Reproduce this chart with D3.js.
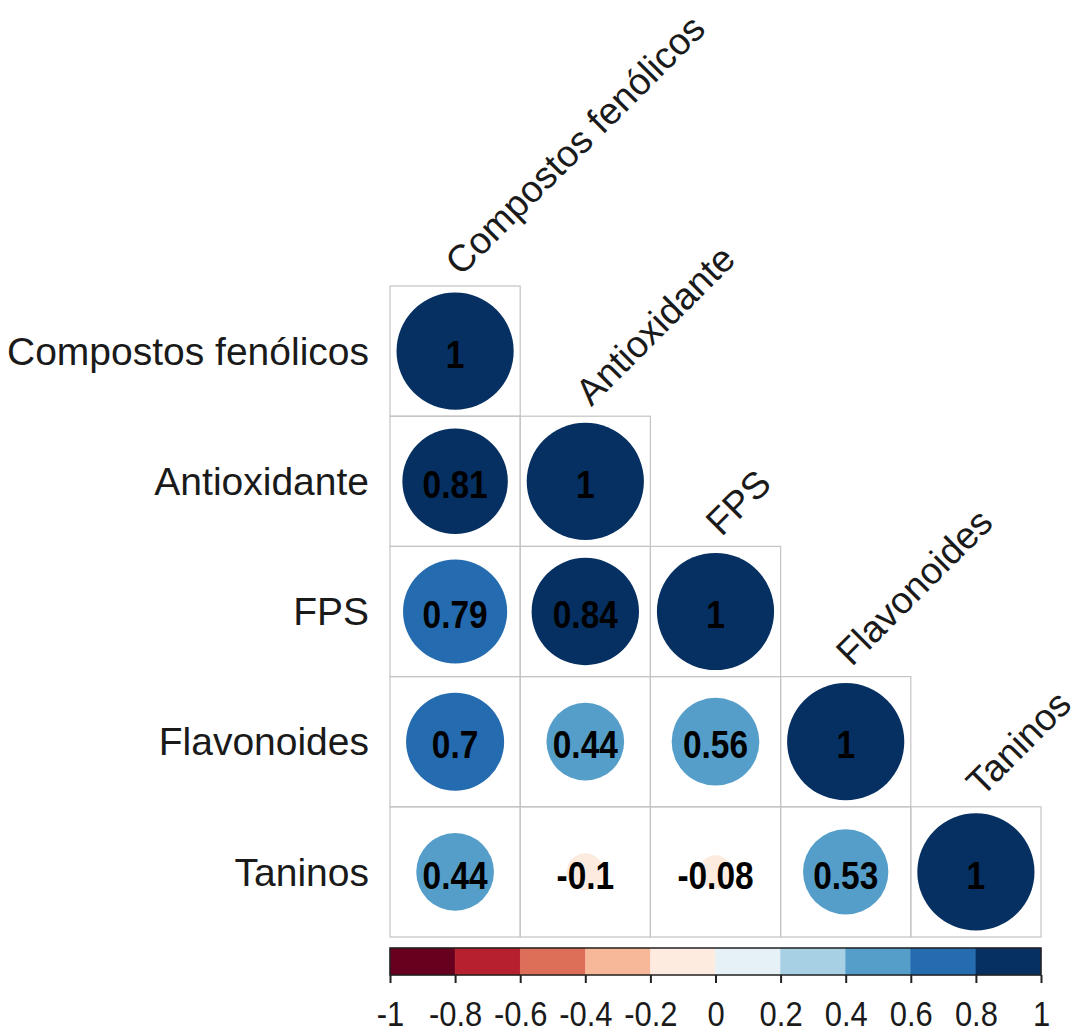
<!DOCTYPE html>
<html>
<head>
<meta charset="utf-8">
<script src="https://cdn.jsdelivr.net/npm/d3@7"></script>
<style>
  html, body { margin: 0; padding: 0; background: #ffffff; }
  svg { display: block; }
  text { font-family: "Liberation Sans", Arial, sans-serif; }
</style>
</head>
<body>
<svg id="chart" width="1091" height="1035"></svg>
<script>
// Variables of the correlation matrix
const variables = ["Compostos fenólicos", "Antioxidante", "FPS", "Flavonoides", "Taninos"];

// Lower-triangle correlation coefficients, one array per row (diagonal included)
const rowCompostos    = [1];
const rowAntioxidante = [0.81, 1];
const rowFPS          = [0.79, 0.84, 1];
const rowFlavonoides  = [0.70, 0.44, 0.56, 1];
const rowTaninos      = [0.44, -0.10, -0.08, 0.53, 1];
const correlations = [rowCompostos, rowAntioxidante, rowFPS, rowFlavonoides, rowTaninos];

// Colour legend ticks
const legendTicks = [-1, -0.8, -0.6, -0.4, -0.2, 0, 0.2, 0.4, 0.6, 0.8, 1];

// RdBu ramp stops, sampled into 10 equal bins
const rampStops = ["#67001F", "#B2182B", "#D6604D", "#F4A582", "#FDDBC7", "#FFFFFF",
                   "#D1E5F0", "#92C5DE", "#4393C3", "#2166AC", "#053061"];
const nBins = 10;

const svg = d3.select("#chart");

const ramp = d3.piecewise(d3.interpolateRgb, rampStops);
const binColors = d3.range(nBins).map(k => d3.color(ramp(k / (nBins - 1))).formatHex());
const color = d3.scaleQuantize().domain([-1, 1]).range(binColors);

// Grid geometry
const x = d3.scaleBand().domain(variables).range([390, 1041]).padding(0);
const y = d3.scaleBand().domain(variables).range([286, 937]).padding(0);
const cell = x.bandwidth();

// Flatten the lower triangle into cells
const cells = [];
correlations.forEach((row, i) => {
  row.forEach((v, j) => cells.push({ row: variables[i], col: variables[j], value: v }));
});

// Cell frames
svg.append("g")
  .selectAll("rect")
  .data(cells)
  .join("rect")
  .attr("x", d => x(d.col))
  .attr("y", d => y(d.row))
  .attr("width", cell)
  .attr("height", cell)
  .attr("fill", "none")
  .attr("stroke", "#c4c4c4")
  .attr("stroke-width", 1.2);

// Circles: area proportional to |r|
const radius = d3.scaleSqrt().domain([0, 1]).range([0, 0.45 * cell]);
svg.append("g")
  .selectAll("circle")
  .data(cells)
  .join("circle")
  .attr("cx", d => x(d.col) + cell / 2)
  .attr("cy", d => y(d.row) + cell / 2)
  .attr("r", d => radius(Math.abs(d.value)))
  .attr("fill", d => color(d.value));

// Coefficient labels (slightly condensed bold digits)
const fmt = v => String(+v.toFixed(2));
svg.append("g")
  .selectAll("text")
  .data(cells)
  .join("text")
  .attr("transform", d => `translate(${x(d.col) + cell / 2},${y(d.row) + cell / 2 + 3}) scale(0.88,1)`)
  .attr("dy", "0.36em")
  .attr("text-anchor", "middle")
  .attr("font-size", 38)
  .attr("font-weight", "bold")
  .attr("fill", "#000")
  .text(d => fmt(d.value));

// Row labels
svg.append("g")
  .selectAll("text")
  .data(variables)
  .join("text")
  .attr("x", 369)
  .attr("y", d => y(d) + cell / 2)
  .attr("dy", "0.35em")
  .attr("text-anchor", "end")
  .attr("font-size", 39)
  .attr("fill", "#1a1a1a")
  .text(d => d);

// Column labels on the diagonal, rotated 45°
svg.append("g")
  .selectAll("text")
  .data(variables)
  .join("text")
  .attr("transform", d => `translate(${x(d) + cell / 2 + 6},${y(d) - 9}) rotate(-45)`)
  .attr("text-anchor", "start")
  .attr("font-size", 37.5)
  .attr("fill", "#1a1a1a")
  .text(d => d);

// Colour legend
const lx = d3.scaleLinear().domain([-1, 1]).range([390, 1041]);
const barTop = 948, barBottom = 975;
const bins = d3.range(nBins).map(k => ({ a: -1 + 2 * k / nBins, b: -1 + 2 * (k + 1) / nBins, c: binColors[k] }));

const legend = svg.append("g");
legend.selectAll("rect.bin")
  .data(bins)
  .join("rect")
  .attr("class", "bin")
  .attr("x", d => lx(d.a))
  .attr("y", barTop)
  .attr("width", d => lx(d.b) - lx(d.a))
  .attr("height", barBottom - barTop)
  .attr("fill", d => d.c)
  .attr("stroke", d => d.c)
  .attr("stroke-width", 0.5);

legend.append("rect")
  .attr("x", lx(-1))
  .attr("y", barTop)
  .attr("width", lx(1) - lx(-1))
  .attr("height", barBottom - barTop)
  .attr("fill", "none")
  .attr("stroke", "#222")
  .attr("stroke-width", 1.5);

const axis = d3.axisBottom(lx)
  .tickValues(legendTicks)
  .tickSize(8)
  .tickPadding(17)
  .tickFormat(d => String(+d.toFixed(1)));

const axisG = legend.append("g")
  .attr("transform", `translate(0,${barBottom})`)
  .call(axis);
axisG.select(".domain").remove();
axisG.selectAll(".tick line").attr("stroke", "#222").attr("stroke-width", 2);
axisG.selectAll(".tick text")
  .attr("font-family", "\"Liberation Sans\", Arial, sans-serif")
  .attr("font-size", 36)
  .attr("transform", "scale(0.86,1)")
  .attr("fill", "#1a1a1a");
</script>
</body>
</html>
